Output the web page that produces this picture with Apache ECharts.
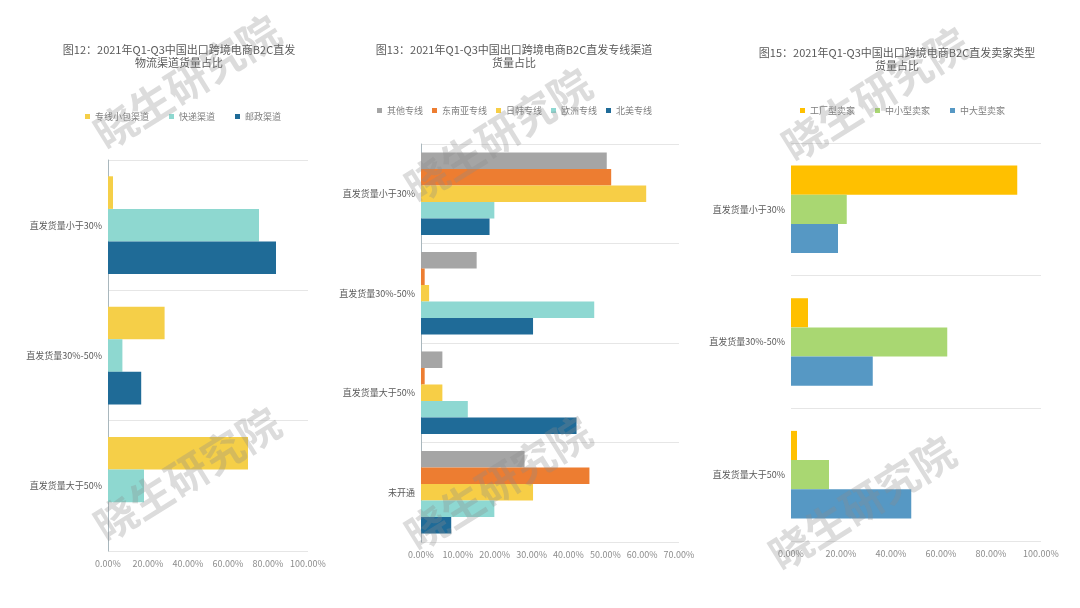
<!DOCTYPE html>
<html>
<head>
<meta charset="utf-8">
<script src="https://cdn.jsdelivr.net/npm/echarts@6/dist/echarts.min.js"></script>
<style>
  html, body { margin: 0; padding: 0; background: #fff; }
  #main { width: 1080px; height: 608px; }
</style>
</head>
<body>
<div id="main"></div>
<script>
// 图12 物流渠道
var cats12 = ['直发货量小于30%', '直发货量30%-50%', '直发货量大于50%'];
var zhuanxianXiaobao = [2.5, 28.3, 70.0];
var kuaidi = [75.5, 7.2, 18.0];
var youzheng = [84.0, 16.6, 0];

// 图13 专线渠道
var cats13 = ['直发货量小于30%', '直发货量30%-50%', '直发货量大于50%', '未开通'];
var qitaZhuanxian = [50.4, 15.1, 5.8, 28.1];
var dongnanya = [51.6, 1.0, 1.0, 45.7];
var riben = [61.1, 2.2, 5.8, 30.4];
var ouzhou = [19.9, 47.0, 12.7, 19.9];
var beimei = [18.6, 30.4, 42.2, 8.2];

// 图15 卖家类型
var cats15 = ['直发货量小于30%', '直发货量30%-50%', '直发货量大于50%'];
var gongchang = [90.5, 6.8, 2.4];
var zhongxiao = [22.3, 62.5, 15.2];
var zhongda = [18.8, 32.7, 48.1];

var cjk = '"Noto Sans CJK SC", "Microsoft YaHei", sans-serif';
var myChart = echarts.init(document.getElementById('main'));

function pct(v) { return v.toFixed(2) + '%'; }

function valueAxis(idx, max, interval) {
    return {
        type: 'value', gridIndex: idx, min: 0, max: max, interval: interval,
        axisLine: { show: false }, axisTick: { show: false },
        splitLine: { show: false },
        axisLabel: { formatter: pct, color: '#8c8c8c', fontSize: 9, fontFamily: cjk, margin: 8 }
    };
}
function catAxis(idx, data, showLine) {
    return {
        type: 'category', gridIndex: idx, data: data, inverse: true,
        axisLine: { show: showLine, lineStyle: { color: '#a9b7bd', width: 1 } },
        axisTick: { show: false },
        splitLine: { show: true, lineStyle: { color: '#e6e6e6', width: 1 } },
        axisLabel: { color: '#595959', fontSize: 9, fontFamily: cjk, margin: 6 }
    };
}
function bar(name, idx, data, color, gap) {
    return {
        name: name, type: 'bar', xAxisIndex: idx, yAxisIndex: idx, data: data,
        itemStyle: { color: color }, barGap: '0%', barCategoryGap: gap,
        emphasis: { disabled: true }
    };
}
// 水印
function mark(x, y) {
    return {
        type: 'text', x: x, y: y, rotation: 32 * Math.PI / 180, z: 100,
        style: {
            text: '晓生研究院', fill: 'rgba(140,140,140,0.3)',
            font: 'bold 42px ' + cjk, align: 'center', verticalAlign: 'middle'
        }
    };
}

var legendText = { color: '#7f7f7f', fontSize: 9, fontFamily: cjk };
var titleText = { color: '#595959', fontSize: 11, fontWeight: 'normal', fontFamily: cjk, lineHeight: 13 };

option = {
    backgroundColor: '#fff',
    animation: false,
    title: [
        { text: '图12：2021年Q1-Q3中国出口跨境电商B2C直发\n物流渠道货量占比', left: 179, top: 43, padding: 0, textAlign: 'center', textStyle: titleText },
        { text: '图13：2021年Q1-Q3中国出口跨境电商B2C直发专线渠道\n货量占比', left: 514, top: 43, padding: 0, textAlign: 'center', textStyle: titleText },
        { text: '图15：2021年Q1-Q3中国出口跨境电商B2C直发卖家类型\n货量占比', left: 897, top: 46, padding: 0, textAlign: 'center', textStyle: titleText }
    ],
    legend: [
        { data: ['专线小包渠道', '快递渠道', '邮政渠道'], left: 85, top: 112, padding: 0, itemGap: 20, itemWidth: 5, itemHeight: 5, icon: 'rect', textStyle: legendText },
        { data: ['其他专线', '东南亚专线', '日韩专线', '欧洲专线', '北美专线'], left: 377, top: 106, padding: 0, itemGap: 9, itemWidth: 5, itemHeight: 5, icon: 'rect', textStyle: legendText },
        { data: ['工厂型卖家', '中小型卖家', '中大型卖家'], left: 800, top: 106, padding: 0, itemGap: 20, itemWidth: 5, itemHeight: 5, icon: 'rect', textStyle: legendText }
    ],
    grid: [
        { left: 108, top: 160, width: 200, height: 391 },
        { left: 421, top: 144, width: 258, height: 398 },
        { left: 791, top: 143, width: 250, height: 398 }
    ],
    xAxis: [valueAxis(0, 100, 20), valueAxis(1, 70, 10), valueAxis(2, 100, 20)],
    yAxis: [catAxis(0, cats12, true), catAxis(1, cats13, true), catAxis(2, cats15, false)],
    series: [
        bar('专线小包渠道', 0, zhuanxianXiaobao, '#f5cf48', '25%'),
        bar('快递渠道', 0, kuaidi, '#8ed8d0', '25%'),
        bar('邮政渠道', 0, youzheng, '#1f6b97', '25%'),

        bar('其他专线', 1, qitaZhuanxian, '#a5a5a5', '17%'),
        bar('东南亚专线', 1, dongnanya, '#ed7d31', '17%'),
        bar('日韩专线', 1, riben, '#f7ce46', '17%'),
        bar('欧洲专线', 1, ouzhou, '#8ed8d2', '17%'),
        bar('北美专线', 1, beimei, '#1f6b98', '17%'),

        bar('工厂型卖家', 2, gongchang, '#ffc000', '34%'),
        bar('中小型卖家', 2, zhongxiao, '#a9d772', '34%'),
        bar('中大型卖家', 2, zhongda, '#5698c4', '34%')
    ],
    graphic: [
        mark(187, 82), mark(498, 135), mark(875, 94),
        mark(187, 474), mark(498, 483), mark(862, 503)
    ]
};

myChart.setOption(option);
</script>
</body>
</html>
